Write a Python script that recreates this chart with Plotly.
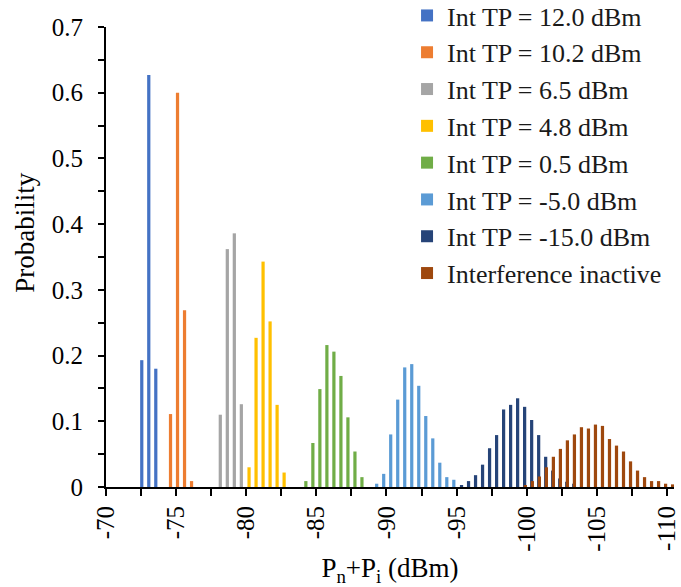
import plotly.graph_objects as go

# ---- data ----
series_names = [
    "Int TP = 12.0 dBm",
    "Int TP = 10.2 dBm",
    "Int TP = 6.5 dBm",
    "Int TP = 4.8 dBm",
    "Int TP = 0.5 dBm",
    "Int TP = -5.0 dBm",
    "Int TP = -15.0 dBm",
    "Interference inactive",
]
series_colors = ["#4472C4", "#ED7D31", "#A5A5A5", "#FFC000",
                 "#70AD47", "#5B9BD5", "#264478", "#9E480E"]

tp120_x = [-72.55, -73.05, -73.55]
tp120_y = [0.193, 0.627, 0.180]

tp102_x = [-74.6, -75.1, -75.6, -76.1]
tp102_y = [0.111, 0.600, 0.269, 0.009]

tp65_x = [-78.15, -78.65, -79.15, -79.65]
tp65_y = [0.110, 0.362, 0.386, 0.126]

tp48_x = [-80.2, -80.7, -81.2, -81.7, -82.2, -82.7]
tp48_y = [0.030, 0.227, 0.343, 0.252, 0.125, 0.022]

tp05_x = [-84.25, -84.75, -85.25, -85.75, -86.25, -86.75, -87.25, -87.75, -88.25]
tp05_y = [0.009, 0.067, 0.149, 0.216, 0.206, 0.169, 0.106, 0.054, 0.015]

tpm5_x = [-89.3, -89.8, -90.3, -90.8, -91.3, -91.8, -92.3, -92.8, -93.3, -93.8, -94.3, -94.8]
tpm5_y = [0.005, 0.020, 0.080, 0.133, 0.182, 0.187, 0.154, 0.108, 0.074, 0.037, 0.015, 0.011]

tpm15_x = [-95.35, -95.85, -96.35, -96.85, -97.35, -97.85, -98.35, -98.85, -99.35,
           -99.85, -100.35, -100.85, -101.35, -101.85, -102.35, -102.85, -103.35]
tpm15_y = [0.003, 0.009, 0.018, 0.034, 0.059, 0.079, 0.118, 0.125, 0.135,
           0.122, 0.102, 0.079, 0.046, 0.025, 0.013, 0.008, 0.005]

inactive_x = [-99.9, -100.4, -100.9, -101.4, -101.9, -102.4, -102.9, -103.4, -103.9, -104.4, -104.9,
              -105.4, -105.9, -106.4, -106.9, -107.4, -107.9, -108.4, -108.9, -109.4, -109.9, -110.4]
inactive_y = [0.002, 0.009, 0.016, 0.030, 0.046, 0.058, 0.071, 0.080, 0.091, 0.089, 0.095,
              0.093, 0.073, 0.063, 0.054, 0.039, 0.025, 0.015, 0.009, 0.009, 0.005, 0.004]

x_tickvals = [-70, -75, -80, -85, -90, -95, -100, -105, -110]
x_ticktext = ["-70", "-75", "-80", "-85", "-90", "-95", "-100", "-105", "-110"]

all_x = [tp120_x, tp102_x, tp65_x, tp48_x, tp05_x, tpm5_x, tpm15_x, inactive_x]
all_y = [tp120_y, tp102_y, tp65_y, tp48_y, tp05_y, tpm5_y, tpm15_y, inactive_y]

FONT = "Liberation Serif"

fig = go.Figure()
for name, color, xs, ys in zip(series_names, series_colors, all_x, all_y):
    fig.add_trace(go.Bar(x=xs, y=ys, name=name, width=0.23,
                         marker=dict(color=color, line=dict(width=0))))

fig.update_layout(
    width=681, height=587,
    margin=dict(l=106, r=7, t=27, b=100, autoexpand=False),
    paper_bgcolor="white", plot_bgcolor="white",
    barmode="overlay",
    font=dict(family=FONT, size=25, color="black"),
    showlegend=True,
    legend=dict(x=0.530, y=1.076, xanchor="left", yanchor="top", maxheight=500,
                bgcolor="rgba(0,0,0,0)", font=dict(size=26, family=FONT, color="#1a1a1a"),
                traceorder="normal", itemclick=False),
    xaxis=dict(
        range=[-70, -110.5], showgrid=False, zeroline=False,
        showline=True, linecolor="black", linewidth=2,
        ticks="outside", ticklen=7, tickwidth=2, tickcolor="black",
        tickvals=x_tickvals, ticktext=x_ticktext, tickangle=-90,
        tickfont=dict(size=25, family=FONT),
        minor=dict(dtick=2.5, ticks="outside", ticklen=7, tickwidth=2, tickcolor="black", showgrid=False),
        title=dict(text="P<sub>n</sub>+P<sub>i</sub> (dBm)", font=dict(size=27, family=FONT), standoff=9),
    ),
    yaxis=dict(
        range=[0, 0.7], showgrid=False, zeroline=False,
        showline=True, linecolor="black", linewidth=2,
        ticks="outside", ticklen=6, tickwidth=2, tickcolor="black",
        dtick=0.1, tickfont=dict(size=25, family=FONT), ticklabelstandoff=10,
        minor=dict(dtick=0.05, ticks="outside", ticklen=6, tickwidth=2, tickcolor="black", showgrid=False),
    ),
    annotations=[dict(text="Probability", textangle=-90, xref="paper", yref="paper",
                      x=-0.143, y=0.552, xanchor="center", yanchor="middle", showarrow=False,
                      font=dict(size=27, family=FONT, color="black"))],
)

fig.write_html("out.html")
